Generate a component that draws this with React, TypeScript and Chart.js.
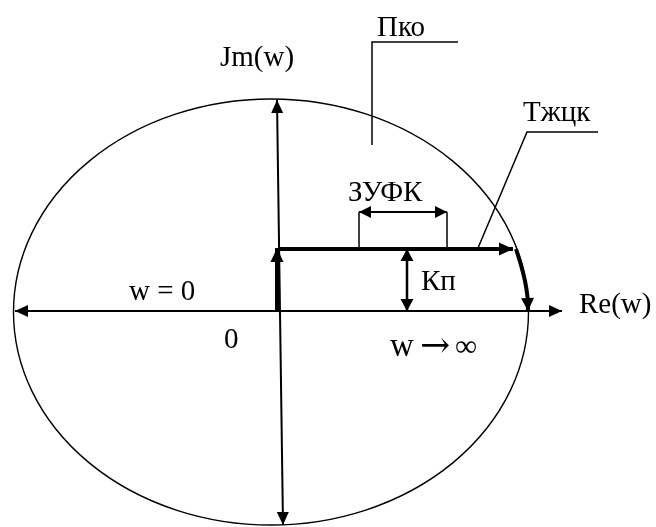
import React, { useEffect, useRef } from "react";
import { Chart, registerables } from "chart.js";

Chart.register(...registerables);

// Plane extents (units: Re/Im, origin at axes crossing)
const X_RANGE = [-27.9, 37.7];
const Y_RANGE = [-21.6, 31.1];

// Axes
const RE_AXIS = [{ x: -26.4, y: 0 }, { x: 28.3, y: 0 }];
const IM_AXIS = [{ x: -0.2, y: 21.1 }, { x: 0.4, y: -21.4 }];

// Ellipse (Пко boundary)
const ELLIPSE_CENTER = { x: -0.8, y: -0.1 };
const ELLIPSE_RADII = { rx: 25.75, ry: 21.3 };

// Characteristic (Тжцк) — thick path
const TH_VERTICAL = [{ x: -0.2, y: 0 }, { x: -0.2, y: 6.3 }];
const TH_HORIZONTAL = [{ x: 0, y: 6.2 }, { x: 23.4, y: 6.2 }];
const TH_CURVE = [
  { x: 23.7, y: 6.2 },
  { x: 24.2, y: 4.6 },
  { x: 24.6, y: 3.0 },
  { x: 24.85, y: 1.4 },
  { x: 24.9, y: 0 },
];

// Dimension ЗУФК
const ZUFK_LEFT = [{ x: 8.0, y: 6.2 }, { x: 8.0, y: 9.9 }];
const ZUFK_RIGHT = [{ x: 16.8, y: 6.2 }, { x: 16.8, y: 9.9 }];
const ZUFK_ARROW = [{ x: 8.0, y: 9.9 }, { x: 16.8, y: 9.9 }];

// Dimension Кп
const KP_ARROW = [{ x: 12.8, y: 6.2 }, { x: 12.8, y: 0 }];

// Leaders
const PKO_LEADER = [{ x: 9.3, y: 16.6 }, { x: 9.3, y: 26.9 }, { x: 17.9, y: 26.9 }];
const TZHCK_LEADER = [{ x: 19.9, y: 6.3 }, { x: 24.8, y: 17.9 }, { x: 31.9, y: 17.9 }];

// Labels
const SERIF = "'Liberation Serif', 'Times New Roman', serif";
const ARROWFONT = "'DejaVu Serif', serif";
const LABEL_TEXTS = ["Jm(w)", "Пко", "Тжцк", "ЗУФК", "Кп", "w = 0", "0", "w", "→", "∞", "Re(w)"];
const LABEL_X = [-5.9, 9.8, 24.4, 6.9, 14.2, -15.0, -5.5, 11.1, 14.1, 17.6, 30.0];
const LABEL_Y = [24.5, 27.5, 19.0, 11.0, 2.1, 1.1, -3.7, -4.5, -4.6, -4.5, -0.2];
const LABEL_SIZES = [29, 29, 29, 29, 29, 29, 29, 33, 36, 31, 29];
const LABEL_FONTS = [SERIF, SERIF, SERIF, SERIF, SERIF, SERIF, SERIF, SERIF, ARROWFONT, SERIF, SERIF];

function drawHead(ctx: CanvasRenderingContext2D, from: any, to: any, len: number, w: number) {
  const dx = to.x - from.x;
  const dy = to.y - from.y;
  const d = Math.hypot(dx, dy) || 1;
  const ux = dx / d, uy = dy / d;
  const px = -uy, py = ux;
  ctx.beginPath();
  ctx.moveTo(to.x, to.y);
  ctx.lineTo(to.x - ux * len + px * w / 2, to.y - uy * len + py * w / 2);
  ctx.lineTo(to.x - ux * len - px * w / 2, to.y - uy * len - py * w / 2);
  ctx.closePath();
  ctx.fill();
}

const ellipsePlugin = {
  id: "ellipse",
  beforeDatasetsDraw(chart: any) {
    const { ctx, scales } = chart;
    const cx = scales.x.getPixelForValue(ELLIPSE_CENTER.x);
    const cy = scales.y.getPixelForValue(ELLIPSE_CENTER.y);
    const rx = Math.abs(scales.x.getPixelForValue(ELLIPSE_CENTER.x + ELLIPSE_RADII.rx) - cx);
    const ry = Math.abs(scales.y.getPixelForValue(ELLIPSE_CENTER.y + ELLIPSE_RADII.ry) - cy);
    ctx.save();
    ctx.strokeStyle = "#000";
    ctx.lineWidth = 1.4;
    ctx.beginPath();
    ctx.ellipse(cx, cy, rx, ry, 0, 0, Math.PI * 2);
    ctx.stroke();
    ctx.restore();
  },
};

const arrowPlugin = {
  id: "arrows",
  afterDatasetsDraw(chart: any) {
    const ctx = chart.ctx;
    ctx.save();
    ctx.fillStyle = "#000";
    chart.data.datasets.forEach((ds: any, i: number) => {
      const pts = chart.getDatasetMeta(i).data;
      if (pts.length < 2) return;
      const len = ds.headLen || 13;
      const w = ds.headW || 12;
      if (ds.arrowEnd) drawHead(ctx, pts[pts.length - 2], pts[pts.length - 1], len, w);
      if (ds.arrowStart) drawHead(ctx, pts[1], pts[0], len, w);
    });
    ctx.restore();
  },
};

const labelPlugin = {
  id: "labels",
  afterDatasetsDraw(chart: any) {
    const { ctx, scales } = chart;
    ctx.save();
    ctx.fillStyle = "#000";
    ctx.textAlign = "left";
    ctx.textBaseline = "alphabetic";
    LABEL_TEXTS.forEach((t, i) => {
      ctx.font = `${LABEL_SIZES[i]}px ${LABEL_FONTS[i]}`;
      ctx.fillText(t, scales.x.getPixelForValue(LABEL_X[i]), scales.y.getPixelForValue(LABEL_Y[i]));
    });
    ctx.restore();
  },
};

function line(data: any[], width: number, extra: any = {}) {
  return {
    data,
    showLine: true,
    borderColor: "#000",
    backgroundColor: "#000",
    borderWidth: width,
    pointRadius: 0,
    pointHoverRadius: 0,
    tension: 0,
    borderCapStyle: "butt",
    borderJoinStyle: "miter",
    ...extra,
  };
}

export default function App() {
  const ref = useRef<HTMLCanvasElement | null>(null);
  useEffect(() => {
    if (!ref.current) return;
    const chart = new Chart(ref.current, {
      type: "scatter",
      data: {
        datasets: [
          line(RE_AXIS, 2, { arrowStart: true, arrowEnd: true }),
          line(IM_AXIS, 2, { arrowStart: true, arrowEnd: true }),
          line(TH_VERTICAL, 4, { arrowEnd: true, headLen: 14, headW: 13 }),
          line(TH_HORIZONTAL, 4, { arrowEnd: true, headLen: 14, headW: 13 }),
          line(TH_CURVE, 4, { arrowEnd: true, headLen: 13, headW: 13, tension: 0.4 }),
          line(ZUFK_LEFT, 1.5),
          line(ZUFK_RIGHT, 1.5),
          line(ZUFK_ARROW, 2, { arrowStart: true, arrowEnd: true, headLen: 12, headW: 12 }),
          line(KP_ARROW, 2.5, { arrowStart: true, arrowEnd: true, headLen: 12, headW: 13 }),
          line(PKO_LEADER, 1.5),
          line(TZHCK_LEADER, 1.5),
        ] as any,
      },
      options: {
        animation: false,
        responsive: false,
        maintainAspectRatio: false,
        layout: { padding: 0 },
        events: [],
        plugins: { legend: { display: false }, tooltip: { enabled: false } },
        scales: {
          x: { type: "linear", min: X_RANGE[0], max: X_RANGE[1], display: false },
          y: { type: "linear", min: Y_RANGE[0], max: Y_RANGE[1], display: false },
        },
      },
      plugins: [ellipsePlugin, arrowPlugin, labelPlugin],
    });
    return () => chart.destroy();
  }, []);
  return (
    <div style={{ position: "fixed", left: 0, top: 0, width: 656, height: 527, background: "#fff" }}>
      <canvas ref={ref} width={656} height={527} style={{ display: "block" }} />
    </div>
  );
}
